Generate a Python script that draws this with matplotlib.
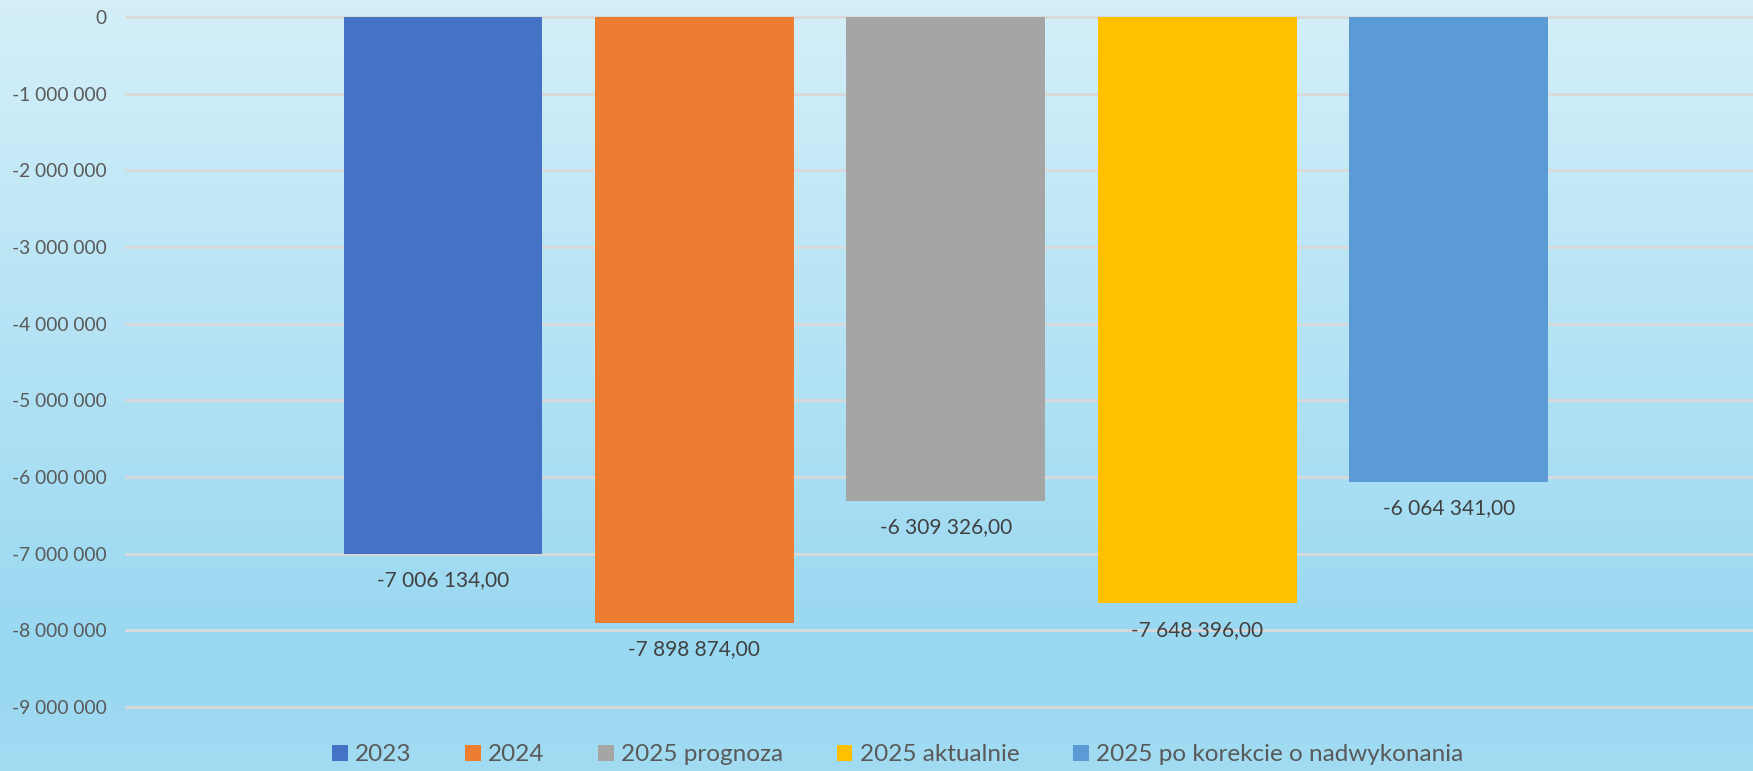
import matplotlib
matplotlib.use("Agg")
import matplotlib.pyplot as plt
from matplotlib.colors import LinearSegmentedColormap
from matplotlib.ticker import FuncFormatter
import numpy as np

# data
series = ["2023", "2024", "2025 prognoza", "2025 aktualnie", "2025 po korekcie o nadwykonania"]
values = [-7006134.00, -7898874.00, -6309326.00, -7648396.00, -6064341.00]
colors = ["#4472C4", "#ED7D31", "#A5A5A5", "#FFC000", "#5B9BD5"]
yticks = [0, -1e6, -2e6, -3e6, -4e6, -5e6, -6e6, -7e6, -8e6, -9e6]

plt.rcParams["font.family"] = ["Lato", "DejaVu Sans"]

fig = plt.figure(figsize=(17.53, 7.71), dpi=100)

# background gradient
bg = fig.add_axes([0, 0, 1, 1], zorder=-10)
cmap = LinearSegmentedColormap.from_list(
    "bg", [(0, "#D4EFF9"), (0.85, "#98D8F1"), (1.0, "#A2DCF3")])
grad = np.linspace(0, 1, 256).reshape(-1, 1)
bg.imshow(grad, aspect="auto", cmap=cmap, extent=[0, 1, 0, 1], origin="upper")
bg.axis("off")

ax = fig.add_axes([126 / 1753, 64 / 771, 1 - 126 / 1753, (707 - 17) / 771])
ax.patch.set_alpha(0)

x = np.arange(len(series))
bars = ax.bar(x, values, width=0.79, color=colors, zorder=3)

for yv in yticks:
    ax.axhline(yv, color="#D9D9D9", lw=2, zorder=1, clip_on=False)

for xi, v in zip(x, values):
    lbl = f"{v:,.2f}".replace(",", " ").replace(".", ",")
    ax.annotate(lbl, (xi, v), xytext=(0, -19), textcoords="offset points",
                ha="center", va="center", fontsize=15, color="#404040")

ax.set_xlim(-1.26, 5.21)
ax.set_ylim(-9e6, 0)
ax.set_yticks(yticks)
ax.yaxis.set_major_formatter(FuncFormatter(lambda v, p: f"{v:,.0f}".replace(",", " ")))
ax.tick_params(axis="y", length=0, pad=14, labelsize=13.8, labelcolor="#595959")
ax.set_xticks([])
for s in ax.spines.values():
    s.set_visible(False)

fig.legend(bars, series, loc="center", bbox_to_anchor=(0.512, 0.021), ncol=5,
           frameon=False, fontsize=17.5, labelcolor="#595959",
           handlelength=0.65, handleheight=0.65, handletextpad=0.3,
           columnspacing=2.2)

fig.savefig("out.png", dpi=100)
